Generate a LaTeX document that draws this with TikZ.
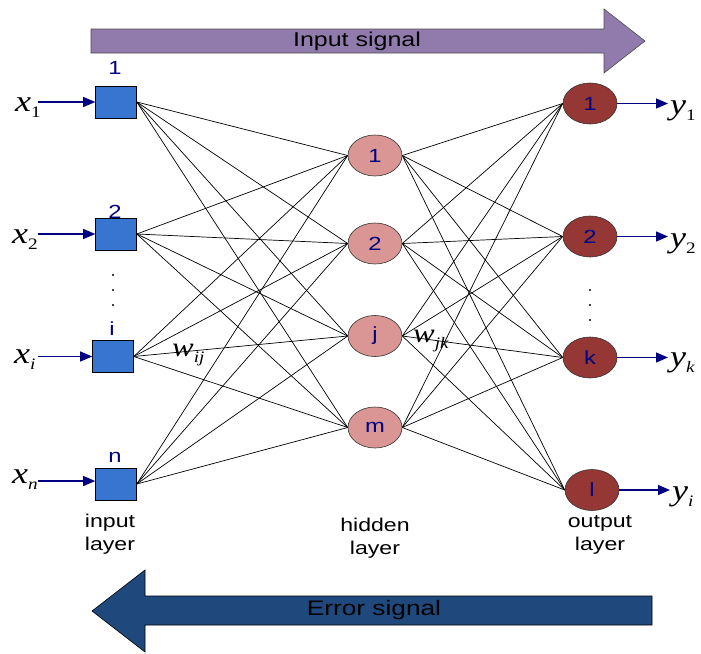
\documentclass[tikz,border=0pt]{standalone}
\usepackage{fontspec}
\setsansfont{Liberation Sans}[FakeStretch=1.25]
\newfontfamily\tnr{Liberation Serif}[FakeStretch=1.2]
\usetikzlibrary{arrows.meta}
\definecolor{inarrow}{HTML}{917BAD}
\definecolor{errarrow}{HTML}{1F497D}
\definecolor{inbox}{HTML}{3875D1}
\definecolor{hidfill}{HTML}{D99694}
\definecolor{outfill}{HTML}{953735}
\definecolor{navy}{HTML}{000080}
\newcommand\vlab[2]{{\tnr\fontsize{30}{30}\selectfont\itshape #1}{\tnr\fontsize{16}{16}\selectfont\raisebox{-6pt}{#2}}}
\newcommand\wlab[2]{{\tnr\fontsize{27}{27}\selectfont\itshape #1}{\tnr\fontsize{16}{16}\selectfont\itshape\raisebox{-6pt}{#2}}}
\tikzset{
  inbx/.style={draw=black, line width=0.6pt, fill=inbox, minimum width=41pt, minimum height=32pt, inner sep=0pt},
  hidn/.style={draw=black!80, line width=0.6pt, fill=hidfill, ellipse, minimum width=54pt, minimum height=41pt, inner sep=0pt, text=navy, font=\sffamily\fontsize{19}{19}\selectfont},
  outn/.style={draw=black!80, line width=0.6pt, fill=outfill, ellipse, minimum width=54pt, minimum height=41pt, inner sep=0pt, text=navy, font=\sffamily\fontsize{19}{19}\selectfont},
  toplab/.style={text=navy, font=\sffamily\fontsize{19}{19}\selectfont, inner sep=0pt},
  laylab/.style={align=center, font=\sffamily\fontsize{18.5}{23}\selectfont, inner sep=0pt},
  varl/.style={anchor=base west, inner sep=0pt},
  sigarrow/.style={navy, line width=1.2pt, -{Triangle[length=12pt,width=10pt]}},
  wire/.style={black, line width=0.7pt},
  dotst/.style={fill=black, circle, inner sep=0pt, minimum size=2.2pt}
}
\usetikzlibrary{shapes.geometric}
\begin{document}
\begin{tikzpicture}[x=1pt,y=-1pt, font=\sffamily]
\useasboundingbox (0,0) rectangle (701,653);
% signal arrows
\draw[fill=inarrow, draw=black!70, line width=0.6pt]
  (91,29) -- (604,29) -- (604,9) -- (645,41) -- (604,73) -- (604,53) -- (91,53) -- cycle;
\node[font=\sffamily\fontsize{20}{20}\selectfont, inner sep=0pt] (insig) at (357,41) {Input signal};
\draw[fill=errarrow, draw=black, line width=0.6pt]
  (652,596) -- (145,596) -- (145,570) -- (92,611) -- (145,652) -- (145,625) -- (652,625) -- cycle;
\node[font=\sffamily\fontsize{21}{21}\selectfont, inner sep=0pt] (errsig) at (374,610) {Error signal};
% input boxes
\node[inbx] (b1) at (116,102) {};
\node[inbx] (b2) at (116,234) {};
\node[inbx] (bi) at (113,356.5) {};
\node[inbx] (bn) at (116,484) {};
\node[toplab] (l1) at (115,68) {1};
\node[toplab] (l2) at (115,212) {2};
\node[toplab] (li) at (112,329) {i};
\node[toplab] (ln) at (115,457) {n};
% hidden
\node[hidn] (h1) at (375,155.5) {1};
\node[hidn] (h2) at (375,243.5) {2};
\node[hidn] (hj) at (375,336) {j};
\node[hidn] (hm) at (375,427.5) {m};
% outputs
\node[outn] (o1) at (590,103.5) {1};
\node[outn] (o2) at (590,236.5) {2};
\node[outn] (ok) at (590,357.5) {k};
\node[outn] (ol) at (592,490) {l};
% wires
\foreach \a in {b1,b2,bi,bn}{
  \foreach \b in {h1,h2,hj,hm}{
    \draw[wire] (\a.east) -- (\b.west);
  }
}
\foreach \a in {h1,h2,hj,hm}{
  \foreach \b in {o1,o2,ok,ol}{
    \draw[wire] (\a.east) -- (\b.west);
  }
}
% dots
\node[dotst] (d1) at (113,275) {};
\node[dotst] (d2) at (113,290) {};
\node[dotst] (d3) at (113,305) {};
\node[dotst] (e1) at (590,290) {};
\node[dotst] (e2) at (590,305) {};
\node[dotst] (e3) at (590,320) {};
% input variables
\node[varl] (x1) at (15,111) {\vlab{x}{1}};
\node[varl] (x2) at (12,243) {\vlab{x}{2}};
\node[varl] (xi) at (14,363) {\vlab{x}{\itshape i}};
\node[varl] (xn) at (12,483) {\vlab{x}{\itshape n}};
\coordinate (x1s) at (38,102);
\coordinate (x2s) at (38,234);
\coordinate (xis) at (38,356.5);
\coordinate (xns) at (38,481);
\draw[sigarrow] (x1s) -- (b1.west);
\draw[sigarrow] (x2s) -- (b2.west);
\draw[sigarrow] (xis) -- (bi.west);
\draw[sigarrow] (xns) -- (bn.west |- xns);
% outputs
\coordinate (y1e) at (668,103.5);
\coordinate (y2e) at (668,236.5);
\coordinate (yke) at (668,357.5);
\coordinate (yle) at (670,490);
\draw[sigarrow] (o1.east) -- (y1e);
\draw[sigarrow] (o2.east) -- (y2e);
\draw[sigarrow] (ok.east) -- (yke);
\draw[sigarrow] (ol.east) -- (yle);
\node[varl] (y1) at (670,114) {\vlab{y}{1}};
\node[varl] (y2) at (670,247) {\vlab{y}{2}};
\node[varl] (yk) at (670,366) {\vlab{y}{\itshape k}};
\node[varl] (yl) at (672,500) {\vlab{y}{\itshape i}};
% weights
\node[varl] (wij) at (172,356) {\wlab{w}{ij}};
\node[varl] (wjk) at (413,342) {\wlab{w}{jk}};
% layer labels
\node[laylab] (inl) at (110,534) {input\\layer};
\node[laylab] (hidl) at (375,538) {hidden\\layer};
\node[laylab] (outl) at (600,535) {output\\layer};
\end{tikzpicture}
\end{document}
